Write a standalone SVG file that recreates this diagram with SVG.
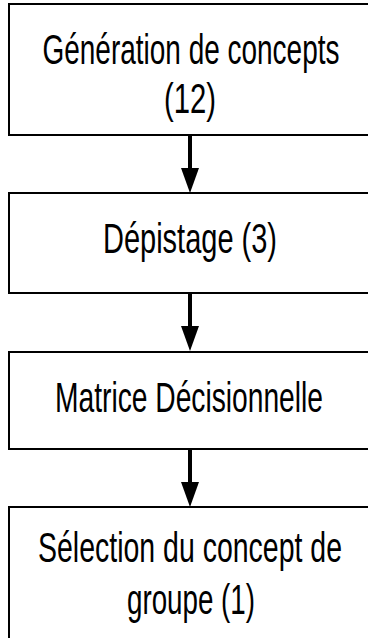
<svg xmlns="http://www.w3.org/2000/svg" width="368" height="638" viewBox="0 0 368 638">
<style>
.box{fill:#fff;stroke:#000;stroke-width:2}
.lbl{font-family:"Liberation Sans","DejaVu Sans",sans-serif;font-size:43px;fill:#000;text-anchor:middle}
.con{stroke:#000;stroke-width:4;fill:none}
</style>
<defs>
<marker id="ah" markerUnits="userSpaceOnUse" markerWidth="25" markerHeight="18" refX="0" refY="9" orient="auto" viewBox="0 0 25 18">
<path d="M0,0 L25,9 L0,18 Z" fill="#000"/>
</marker>
</defs>
<rect width="368" height="638" fill="#fff"/>
<g id="connectors">
<line class="con" x1="190" y1="135" x2="190" y2="168" marker-end="url(#ah)"/>
<line class="con" x1="190" y1="293" x2="190" y2="326" marker-end="url(#ah)"/>
<line class="con" x1="190" y1="449" x2="190" y2="482" marker-end="url(#ah)"/>
</g>
<g id="n1">
<rect class="box" x="9" y="4" width="362" height="131"/>
<text class="lbl" transform="scale(0.65 1)" x="293.8" y="64" textLength="456.9" lengthAdjust="spacingAndGlyphs">Génération de concepts</text>
<text class="lbl" transform="scale(0.65 1)" x="292.3" y="113" textLength="80" lengthAdjust="spacingAndGlyphs">(12)</text>
</g>
<g id="n2">
<rect class="box" x="9" y="193" width="362" height="100"/>
<text class="lbl" transform="scale(0.65 1)" x="292.3" y="253" textLength="267.7" lengthAdjust="spacingAndGlyphs">Dépistage (3)</text>
</g>
<g id="n3">
<rect class="box" x="9" y="352" width="362" height="97"/>
<text class="lbl" transform="scale(0.65 1)" x="290.8" y="412" textLength="412.3" lengthAdjust="spacingAndGlyphs">Matrice Décisionnelle</text>
</g>
<g id="n4">
<rect class="box" x="9" y="507" width="362" height="140"/>
<text class="lbl" transform="scale(0.65 1)" x="292.3" y="562" textLength="467.7" lengthAdjust="spacingAndGlyphs">Sélection du concept de</text>
<text class="lbl" transform="scale(0.65 1)" x="293.8" y="614" textLength="196.9" lengthAdjust="spacingAndGlyphs">groupe (1)</text>
</g>
</svg>
